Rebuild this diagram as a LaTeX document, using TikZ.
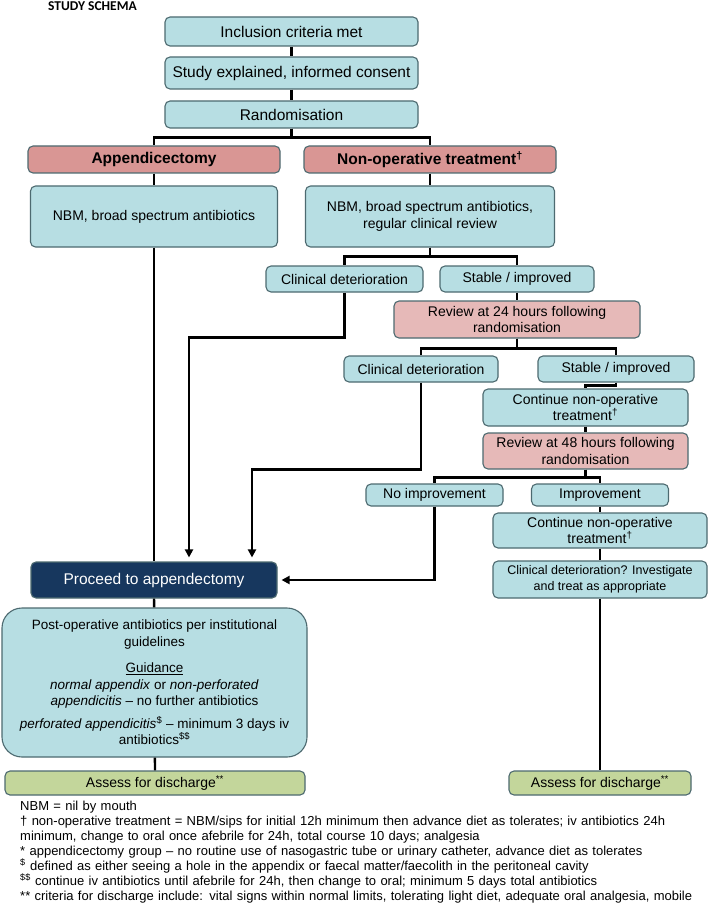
\documentclass[tikz,border=0pt]{standalone}
\usepackage{fontspec}
\setmainfont{Liberation Sans}
\newfontfamily\titlefont{Carlito}
\usetikzlibrary{arrows.meta,calc}
\definecolor{boxblue}{HTML}{B7DEE3}
\definecolor{boxborder}{HTML}{4D6A70}
\definecolor{boxred}{HTML}{D99694}
\definecolor{boxpink}{HTML}{E6B9B8}
\definecolor{boxgreen}{HTML}{C3D69B}
\definecolor{navyfill}{HTML}{17375E}
\begin{document}
\begin{tikzpicture}[x=1pt,y=-1pt,
  base/.style={draw=boxborder, line width=1.1pt, rounded corners=5pt, inner sep=1pt, align=center, font=\fontsize{14}{16.5}\selectfont},
  bluebox/.style={base, fill=boxblue},
  redbox/.style={base, fill=boxred, font=\bfseries\fontsize{15.5}{17}\selectfont},
  pinkbox/.style={base, fill=boxpink},
  greenbox/.style={base, fill=boxgreen},
  navybox/.style={base, fill=navyfill, text=white, font=\fontsize{15.5}{18}\selectfont},
  conn/.style={line width=2.3pt, draw=black},
  arr/.style={conn, -{Triangle[length=8pt,width=8pt]}, shorten >=4pt}
]
\useasboundingbox (0,0) rectangle (709,909);
\fill[white] (0,0) rectangle (709,909);

\node[anchor=west, inner sep=0, font=\titlefont\bfseries\fontsize{13.5}{15}\selectfont] (title) at (48,6) {STUDY SCHEMA};

% top chain
\node[bluebox, minimum width=253pt, minimum height=29pt, font=\fontsize{15.5}{18}\selectfont] (b1) at (291.5,31.5) {Inclusion criteria met};
\node[bluebox, minimum width=253pt, minimum height=32pt, font=\fontsize{15.5}{18}\selectfont] (b2) at (291.5,73) {Study explained, informed consent};
\node[bluebox, minimum width=253pt, minimum height=27pt, font=\fontsize{15.5}{18}\selectfont] (b3) at (291.5,114.5) {Randomisation};

% arms
\node[redbox, minimum width=252pt, minimum height=27pt] (app) at (154,159.5) {Appendicectomy};
\node[redbox, minimum width=252pt, minimum height=27pt] (nonop) at (430,159.5) {Non-operative treatment\textsuperscript{†}};
\node[bluebox, minimum width=247pt, minimum height=61pt] (nbmL) at (154,216.5) {NBM, broad spectrum antibiotics};
\node[bluebox, minimum width=249pt, minimum height=61pt] (nbmR) at (430,216.5) {NBM, broad spectrum antibiotics,\\ regular clinical review};

% first review level
\node[bluebox, minimum width=157pt, minimum height=26pt] (cd1) at (344.5,279) {Clinical deterioration};
\node[bluebox, minimum width=154pt, minimum height=26pt] (st1) at (517,279) {Stable / improved};
\node[pinkbox, minimum width=246pt, minimum height=37pt] (r24) at (517,319.5) {Review at 24 hours following\\ randomisation};
\node[bluebox, minimum width=154pt, minimum height=26pt] (cd2) at (421,369) {Clinical deterioration};
\node[bluebox, minimum width=156pt, minimum height=26pt] (st2) at (616,369) {Stable / improved};
\node[bluebox, minimum width=205pt, minimum height=37pt] (c1) at (585.5,407.5) {Continue non-operative\\ treatment\textsuperscript{†}};
\node[pinkbox, minimum width=205pt, minimum height=36pt] (r48) at (585.5,451) {Review at 48 hours following\\ randomisation};
\node[bluebox, minimum width=137pt, minimum height=22pt] (noimp) at (434.5,495) {No improvement};
\node[bluebox, minimum width=137pt, minimum height=22pt] (imp) at (600,495) {Improvement};
\node[bluebox, minimum width=214pt, minimum height=35pt] (c2) at (600,530.5) {Continue non-operative\\ treatment\textsuperscript{†}};
\node[bluebox, minimum width=214pt, minimum height=37pt, font=\fontsize{12.5}{16}\selectfont] (clinq) at (600,579.5) {Clinical deterioration? Investigate\\ and treat as appropriate};

% left lower chain
\node[navybox, minimum width=246pt, minimum height=36pt] (proc) at (154,580) {Proceed to appendectomy};
\node[bluebox, minimum width=305pt, minimum height=149pt, rounded corners=20pt, font=\fontsize{13.5}{16.5}\selectfont] (post) at (154.5,682.5)
 {Post-operative antibiotics per institutional\\ guidelines\\[10pt]
  \underline{Guidance}\\
  \textit{normal appendix} or \textit{non-perforated}\\
  \textit{appendicitis} – no further antibiotics\\[6pt]
  \textit{perforated appendicitis}\textsuperscript{\$} – minimum 3 days iv\\
  antibiotics\textsuperscript{\$\$}};
\node[greenbox, minimum width=300pt, minimum height=24pt] (assL) at (155,783) {Assess for discharge\textsuperscript{**}};
\node[greenbox, minimum width=182pt, minimum height=24pt] (assR) at (600,783) {Assess for discharge\textsuperscript{**}};

\coordinate (a1) at (189,0);
\coordinate (a2) at (252,0);

% connectors
\draw[conn] (b1) -- (b2);
\draw[conn] (b2) -- (b3);
\draw[conn] (b3.south) -- ++(0,9) -| (app.north);
\draw[conn] (b3.south) -- ++(0,9) -| (nonop.north);
\draw[conn] (app) -- (nbmL);
\draw[conn] (nonop) -- (nbmR);
\draw[conn] (nbmR.south) -- ++(0,9) -| (cd1.north);
\draw[conn] (nbmR.south) -- ++(0,9) -| (st1.north);
\draw[conn] (st1) -- (r24);
\draw[conn] (r24.south) -- ++(0,10) -| (cd2.north);
\draw[conn] (r24.south) -- ++(0,10) -| (st2.north);
\draw[conn] (st2.south) -- ++(0,3) -| (c1.north);
\draw[conn] (c1) -- (r48);
\draw[conn] (r48.south) -- ++(0,8) -| (noimp.north);
\draw[conn] (r48.south) -- ++(0,8) -| (imp.north);
\draw[conn] (imp) -- (c2);
\draw[conn] (c2) -- (clinq);
\draw[conn] (clinq) -- (assR);
\draw[conn] (nbmL) -- (proc);
\draw[conn] (proc) -- (post);
\draw[conn] (post) -- (assL);
\draw[arr] (cd1.south) -- ++(0,45) -| (a1 |- proc.north);
\draw[arr] (cd2.south) -- ++(0,87) -| (a2 |- proc.north);
\draw[arr] (noimp.south) |- (proc.east);

% footnotes
\node[anchor=north west, inner sep=0, text width=689pt, align=left, font=\fontsize{13}{14.9}\selectfont] (notes) at (20,801) {%
NBM = nil by mouth\\[0pt]
\makebox[670pt][s]{† non-operative treatment = NBM/sips for initial 12h minimum then advance diet as tolerates; iv antibiotics 24h}\\[0pt]
minimum, change to oral once afebrile for 24h, total course 10 days; analgesia\\[0pt]
{*} appendicectomy group – no routine use of nasogastric tube or urinary catheter, advance diet as tolerates\\[0pt]
\textsuperscript{\$} defined as either seeing a hole in the appendix or faecal matter/faecolith in the peritoneal cavity\\[0pt]
\textsuperscript{\$\$} continue iv antibiotics until afebrile for 24h, then change to oral; minimum 5 days total antibiotics\\[0pt]
\mbox{{**} criteria for discharge include: vital signs within normal limits, tolerating light diet, adequate oral analgesia, mobile}};
\end{tikzpicture}
\end{document}
